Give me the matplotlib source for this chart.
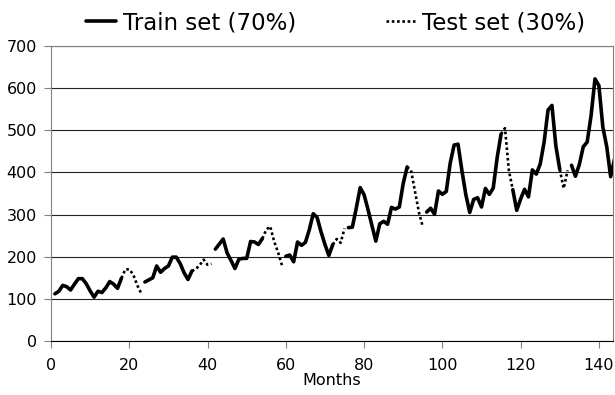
import numpy as np
import matplotlib
matplotlib.use('Agg')
import matplotlib.pyplot as plt

# monthly passengers, months numbered 1..144
passengers = [112, 118, 132, 129, 121, 135, 148, 148, 136, 119, 104, 118,
              115, 126, 141, 135, 125, 149, 170, 170, 158, 133, 114, 140,
              145, 150, 178, 163, 172, 178, 199, 199, 184, 162, 146, 166,
              171, 180, 193, 181, 183, 218, 230, 242, 209, 191, 172, 194,
              196, 196, 236, 235, 229, 243, 264, 272, 237, 211, 180, 201,
              204, 188, 235, 227, 234, 264, 302, 293, 259, 229, 203, 229,
              242, 233, 267, 269, 270, 315, 364, 347, 312, 274, 237, 278,
              284, 277, 317, 313, 318, 374, 413, 405, 355, 306, 271, 306,
              315, 301, 356, 348, 355, 422, 465, 467, 404, 347, 305, 336,
              340, 318, 362, 348, 363, 435, 491, 505, 404, 359, 310, 337,
              360, 342, 406, 396, 420, 472, 548, 559, 463, 407, 362, 405,
              417, 391, 419, 461, 472, 535, 622, 606, 508, 461, 390, 432]
months = np.arange(1, len(passengers) + 1)

# month ranges (inclusive) drawn as train (solid) and test (dotted)
train_spans = [(1, 18), (24, 36), (42, 54), (60, 72), (76, 91), (96, 115), (118, 130), (133, 144)]
test_spans = [(18, 23), (36, 41), (54, 59), (72, 75), (91, 95), (115, 118), (130, 132)]

y = np.array(passengers)

fig = plt.figure(figsize=(6.15, 3.95), dpi=100)
ax = fig.add_axes([51 / 615, 1 - 341 / 395, (613 - 51) / 615, (341 - 46) / 395])

for k, (a, b) in enumerate(train_spans):
    sel = (months >= a) & (months <= b)
    ax.plot(months[sel], y[sel], color='black', lw=2.6, solid_joinstyle='round',
            solid_capstyle='round', label='Train set (70%)' if k == 0 else None, zorder=3)

for k, (a, b) in enumerate(test_spans):
    sel = (months >= a) & (months <= b)
    ax.plot(months[sel], y[sel], color='black', lw=1.9, linestyle=(0, (1, 1)),
            label='Test set (30%)' if k == 0 else None, zorder=3)

ax.set_xlim(0, 143.6)
ax.set_ylim(0, 700)
ax.set_xticks(range(0, 141, 20))
ax.set_yticks(range(0, 701, 100))
ax.yaxis.grid(True, color='#222222', lw=0.8)
ax.set_axisbelow(True)

for s in ['left', 'right', 'top']:
    ax.spines[s].set_color('#808080')
ax.spines['bottom'].set_color('black')
ax.tick_params(axis='both', length=5, color='#808080', labelsize=11.5, direction='out')
ax.tick_params(axis='x', pad=7)
ax.tick_params(axis='y', pad=5)
ax.set_xlabel('Months', fontsize=11.5, labelpad=0)

fig.legend(loc='center', bbox_to_anchor=(0.546, 1 - 23 / 395), ncol=2, frameon=False,
           fontsize=16.5, handlelength=1.3, handletextpad=0.3, columnspacing=3.9,
           borderaxespad=0, borderpad=0)

fig.savefig('out.png', dpi=100)
